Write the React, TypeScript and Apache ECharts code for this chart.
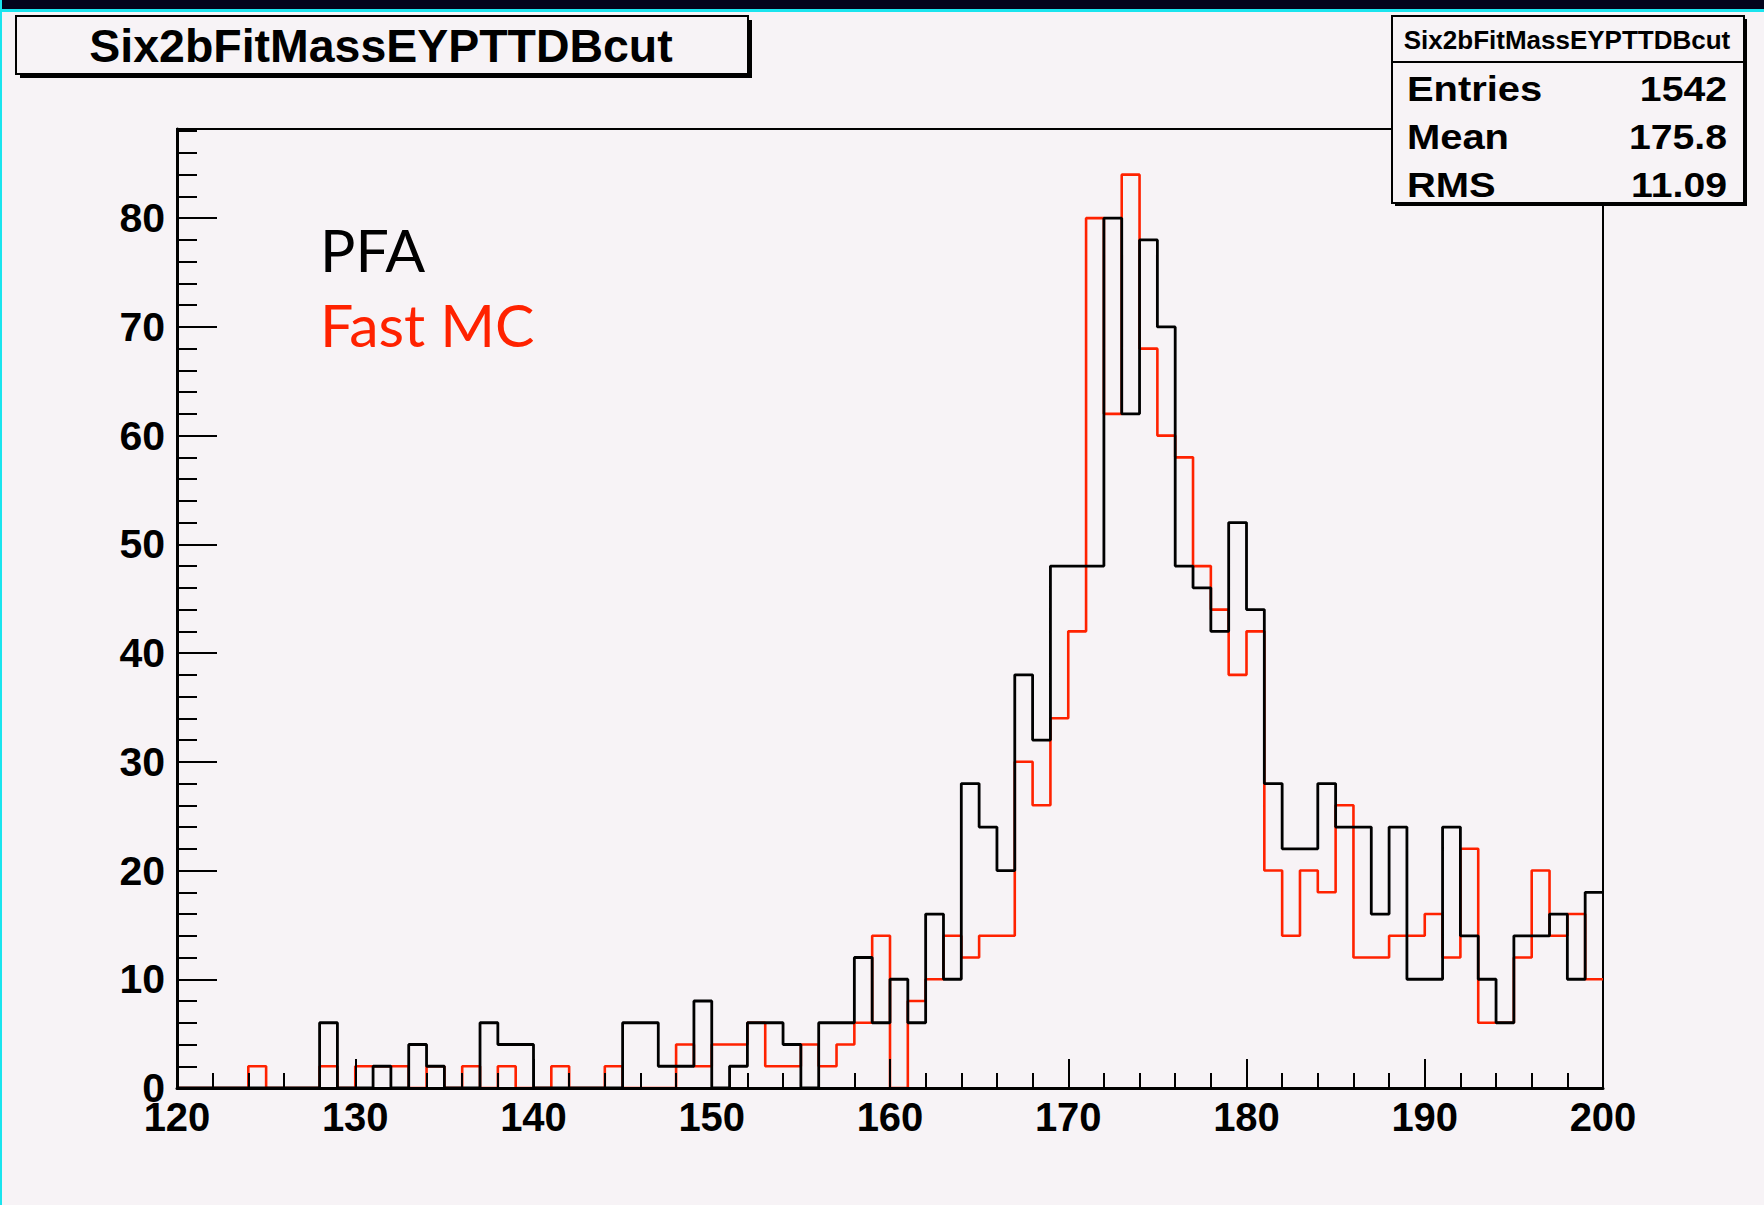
import React, { useEffect, useRef } from "react";
import * as echarts from "echarts";

// Histogram binning: 80 bins of width 1 from 120 to 200
const BIN_MIN = 120;
const BIN_WIDTH = 1;

// PFA (black) bin contents, bins 120..199
const pfaCounts = [
  0, 0, 0, 0, 0, 0, 0, 0, 6, 0,
  0, 2, 0, 4, 2, 0, 0, 6, 4, 4,
  0, 0, 0, 0, 0, 6, 6, 2, 2, 8,
  0, 2, 6, 6, 4, 0, 6, 6, 12, 6,
  10, 6, 16, 10, 28, 24, 20, 38, 32, 48,
  48, 48, 80, 62, 78, 70, 48, 46, 42, 52,
  44, 28, 22, 22, 28, 24, 24, 16, 24, 10,
  10, 24, 14, 10, 6, 14, 14, 16, 10, 18,
];

// Fast MC (red) bin contents, bins 120..199
const fastMcCounts = [
  0, 0, 0, 0, 2, 0, 0, 0, 2, 0,
  2, 2, 2, 0, 2, 0, 2, 0, 2, 0,
  0, 2, 0, 0, 2, 0, 0, 0, 4, 2,
  4, 4, 6, 2, 2, 4, 2, 4, 6, 14,
  0, 8, 10, 14, 12, 14, 14, 30, 26, 34,
  42, 80, 62, 84, 68, 60, 58, 48, 44, 38,
  42, 20, 14, 20, 18, 26, 12, 12, 14, 14,
  16, 12, 22, 6, 6, 12, 20, 14, 16, 10,
];

const titleText = "Six2bFitMassEYPTTDBcut";
const statLabels = ["Entries", "Mean", "RMS"];
const statValues = ["1542", "175.8", "11.09"];
const legendLabels = ["PFA", "Fast MC"];

const BG = "#f7f3f6";
const RED = "#ff2200";

function histPoints(counts: number[]) {
  const pts: [number, number][] = counts.map((v, i) => [BIN_MIN + i * BIN_WIDTH, v]);
  pts.push([BIN_MIN + counts.length * BIN_WIDTH, counts[counts.length - 1]]);
  return pts;
}

export default function App() {
  const ref = useRef<HTMLDivElement>(null);
  useEffect(() => {
    if (!ref.current) return;
    const chart = echarts.init(ref.current, null, { renderer: "svg" });
    const font = "'Liberation Sans', Arial, Helvetica, sans-serif";
    chart.setOption({
      animation: false,
      backgroundColor: BG,
      grid: {
        left: 177,
        right: 161,
        top: 129,
        bottom: 117,
        show: true,
        borderColor: "#000",
        borderWidth: 2,
        backgroundColor: "transparent",
      },
      xAxis: {
        type: "value",
        min: 120,
        max: 200,
        interval: 10,
        z: 10,
        axisLine: { show: true, onZero: false, lineStyle: { color: "#000", width: 3 } },
        axisTick: { show: true, inside: true, length: 29, lineStyle: { color: "#000", width: 2 } },
        minorTick: { show: true, splitNumber: 5, length: 15, lineStyle: { color: "#000", width: 2 } },
        splitLine: { show: false },
        axisLabel: {
          show: true,
          margin: 9,
          color: "#000",
          fontFamily: font,
          fontWeight: "bold",
          fontSize: 40,
        },
      },
      yAxis: {
        type: "value",
        min: 0,
        max: 88.2,
        interval: 10,
        z: 10,
        axisLine: { show: true, lineStyle: { color: "#000", width: 3 } },
        axisTick: { show: true, inside: true, length: 40, lineStyle: { color: "#000", width: 2 } },
        minorTick: { show: true, splitNumber: 5, length: 20, lineStyle: { color: "#000", width: 2 } },
        splitLine: { show: false },
        axisLabel: {
          show: true,
          margin: 12,
          color: "#000",
          fontFamily: font,
          fontWeight: "bold",
          fontSize: 41,
          showMaxLabel: false,
          formatter: (v: number) => (Math.abs(v % 10) < 1e-9 ? String(v) : ""),
        },
      },
      series: [
        {
          name: "Fast MC",
          type: "line",
          step: "end",
          symbol: "none",
          data: histPoints(fastMcCounts),
          lineStyle: { color: RED, width: 2.6 },
          z: 2,
        },
        {
          name: "PFA",
          type: "line",
          step: "end",
          symbol: "none",
          data: histPoints(pfaCounts),
          lineStyle: { color: "#000", width: 2.8 },
          z: 3,
        },
      ],
      graphic: [
        // screen capture borders
        { type: "rect", z: 100, shape: { x: 0, y: 0, width: 1764, height: 9 }, style: { fill: "#03031c" } },
        { type: "rect", z: 100, shape: { x: 0, y: 9, width: 1764, height: 3 }, style: { fill: "#1ae4ee" } },
        { type: "rect", z: 100, shape: { x: 0, y: 0, width: 2, height: 1205 }, style: { fill: "#1ae4ee" } },
        // title box
        { type: "rect", z: 100, shape: { x: 20, y: 20, width: 732, height: 58 }, style: { fill: "#000" } },
        { type: "rect", z: 101, shape: { x: 16, y: 16, width: 732, height: 58 }, style: { fill: BG, stroke: "#000", lineWidth: 2 } },
        {
          type: "text", z: 102, x: 381, y: 46,
          style: { text: titleText, fill: "#000", font: `bold 46px ${font}`, align: "center", verticalAlign: "middle" },
          scaleX: 1.01,
        },
        // stats box
        { type: "rect", z: 100, shape: { x: 1395, y: 19, width: 352, height: 187 }, style: { fill: "#000" } },
        { type: "rect", z: 101, shape: { x: 1392, y: 16, width: 352, height: 187 }, style: { fill: BG, stroke: "#000", lineWidth: 2 } },
        { type: "line", z: 102, shape: { x1: 1392, y1: 62, x2: 1744, y2: 62 }, style: { stroke: "#000", lineWidth: 2 } },
        {
          type: "text", z: 102, x: 1567, y: 40,
          style: { text: titleText, fill: "#000", font: `bold 25px ${font}`, align: "center", verticalAlign: "middle" },
          scaleX: 1.04,
        },
        ...statLabels.map((t, i) => ({
          type: "text", z: 102, x: 1407, y: 89 + i * 48,
          scaleX: 1.14,
          style: { text: t, fill: "#000", font: `bold 35px ${font}`, align: "left", verticalAlign: "middle" },
        })),
        ...statValues.map((t, i) => ({
          type: "text", z: 102, x: 1727, y: 89 + i * 48,
          scaleX: 1.12,
          style: { text: t, fill: "#000", font: `bold 35px ${font}`, align: "right", verticalAlign: "middle" },
        })),
        // legend texts
        {
          type: "text", z: 102, x: 320, y: 249,
          style: { text: legendLabels[0], fill: "#000", font: `59px Lato, 'Open Sans', sans-serif`, align: "left", verticalAlign: "middle" },
        },
        {
          type: "text", z: 102, x: 320, y: 324,
          style: { text: legendLabels[1], fill: RED, font: `59px Lato, 'Open Sans', sans-serif`, align: "left", verticalAlign: "middle" },
        },
      ],
    });
    return () => chart.dispose();
  }, []);
  return (
    <div
      ref={ref}
      style={{ position: "absolute", left: 0, top: 0, width: 1764, height: 1205 }}
    />
  );
}
